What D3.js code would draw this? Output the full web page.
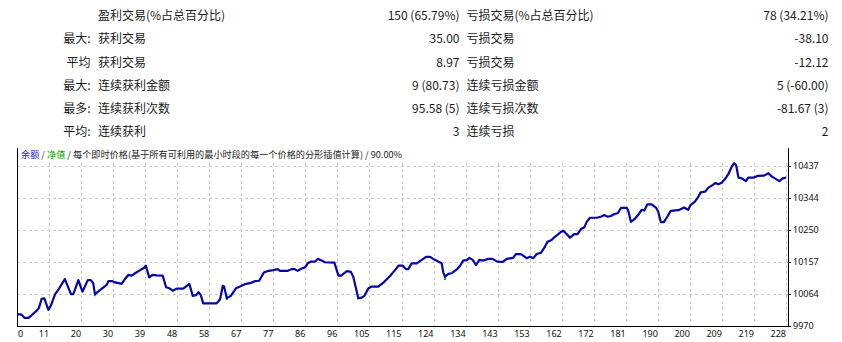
<!DOCTYPE html>
<html><head><meta charset="utf-8">
<script src="https://cdn.jsdelivr.net/npm/d3@7"></script>
<style>html,body{margin:0;padding:0;background:#fff;}svg{display:block;}</style>
</head><body>
<svg id="c" width="842" height="342"></svg>
<script>
// ---- statistics table ----
const rowPrefix = ["", "最大:", "平均", "最大:", "最多:", "平均:"];
const winNames = ["盈利交易(%占总百分比)", "获利交易", "获利交易", "连续获利金额", "连续获利次数", "连续获利"];
const winValues = ["150 (65.79%)", "35.00", "8.97", "9 (80.73)", "95.58 (5)", "3"];
const lossNames = ["亏损交易(%占总百分比)", "亏损交易", "亏损交易", "连续亏损金额", "连续亏损次数", "连续亏损"];
const lossValues = ["78 (34.21%)", "-38.10", "-12.12", "5 (-60.00)", "-81.67 (3)", "2"];

// ---- chart header ----
const headerParts = ["余额", " / ", "净值", " / 每个即时价格(基于所有可利用的最小时段的每一个价格的分形插值计算) / 90.00%"];
const headerColors = ["#1c1cd0", "#333", "#10a010", "#222"];

// ---- axes ----
const xTickLabels = ["0","11","20","30","39","48","58","67","77","86","96","105","115","124","134","143","153","162","172","181","190","200","209","219","228"];
const yTickLabels = ["9970","10064","10157","10250","10344","10437"];

// ---- balance series (trade number, balance) ----
const balanceTrades = [0,1.2,2.2,3.4,4.4,5.8,6.5,7.3,8.1,9.3,10.1,11.3,12.2,14.2,16.0,16.7,18.2,19.4,21.0,21.9,22.6,23.1,24.6,26.6,27.1,28.3,28.8,31.0,32.0,33.0,34.0,35.0,36.5,37.7,38.2,39.2,40.2,41.4,43.2,44.2,45.2,46.2,47.3,49.3,51.1,52.1,53.1,53.8,54.5,55.2,59.2,60.2,61.0,61.4,62.2,63.4,64.9,66.1,67.9,69.1,70.6,71.8,73.2,74.6,76.0,77.3,78.0,80.3,81.4,82.4,83.2,84.2,85.4,86.2,87.2,88.4,89.2,90.3,91.3,94.1,95.3,96.1,97.8,99.0,99.7,101.2,102.2,103.0,104.2,105.2,107.1,108.9,110.6,111.9,113.1,114.4,115.3,116.0,117.0,118.5,120.0,121.3,122.5,123.4,124.9,125.9,126.4,126.9,127.9,128.9,130.4,131.3,132.3,133.5,134.1,135.1,136.1,137.1,138.3,139.7,141.0,142.4,144.0,145.2,147.1,147.9,149.4,151.1,152.1,153.1,154.1,155.4,156.5,157.3,158.5,159.3,160.5,161.3,162.0,163.0,164.0,165.2,166.2,167.2,168.2,168.9,169.9,171.9,173.1,174.1,175.1,176.1,177.1,178.1,179.1,180.8,181.3,182.0,183.0,184.4,185.2,186.0,186.9,188.2,189.5,190.1,190.9,191.8,192.8,193.8,196.1,197.8,199.0,199.7,201.0,202.0,202.7,204.0,205.0,206.3,207.0,208.0,208.9,209.9,210.9,211.9,212.6,213.2,213.9,214.9,216.1,216.8,218.3,219.5,221.5,222.8,223.8,224.7,226.0,227.0,228.0];
const balanceValues = [10004,10004,9994,9994,10002,10014,10023,10049,10051,10017,10031,10063,10075,10107,10063,10063,10104,10070,10104,10104,10095,10063,10075,10090,10101,10101,10098,10093,10107,10119,10117,10124,10133,10140,10146,10112,10119,10118,10117,10083,10080,10073,10079,10079,10093,10058,10060,10069,10060,10036,10036,10048,10087,10085,10051,10058,10080,10085,10093,10095,10101,10102,10126,10131,10133,10136,10131,10131,10136,10136,10131,10137,10141,10153,10158,10158,10166,10161,10156,10155,10117,10117,10130,10128,10114,10051,10053,10058,10080,10085,10085,10099,10116,10131,10146,10146,10136,10136,10153,10153,10163,10172,10172,10166,10158,10153,10126,10114,10122,10124,10135,10145,10161,10163,10169,10163,10148,10163,10161,10166,10166,10158,10157,10166,10169,10180,10180,10168,10172,10168,10180,10184,10201,10216,10221,10229,10238,10245,10248,10238,10228,10238,10238,10253,10258,10274,10286,10286,10289,10294,10289,10291,10297,10299,10315,10315,10304,10274,10281,10297,10309,10307,10325,10325,10315,10304,10273,10273,10289,10306,10308,10316,10309,10323,10333,10347,10360,10362,10374,10382,10387,10384,10388,10399,10413,10435,10445,10440,10403,10401,10393,10403,10403,10408,10409,10416,10406,10401,10393,10401,10403];

// ---- equity dips visible below balance ----
const equityTrades = [23.1, 62.2, 101.2, 126.9];
const equityLows = [10057, 10046, 10048, 10104];

const svg = d3.select("#c");
const cjk = "'Noto Sans CJK SC','Noto Sans',sans-serif";

// table
const rowY = d3.scaleLinear().domain([0, 5]).range([16, 131.7]);
const tbl = svg.append("g").attr("font-family", cjk).attr("font-size", 12).attr("fill", "#1a1a1a");
rowPrefix.forEach((t, i) => {
  const yy = rowY(i) + 4.3;
  tbl.append("text").attr("x", 90.5).attr("y", yy).attr("text-anchor", "end").text(t);
  tbl.append("text").attr("x", 98).attr("y", yy).text(winNames[i]);
  tbl.append("text").attr("x", 459.5).attr("y", yy).attr("text-anchor", "end").text(winValues[i]);
  tbl.append("text").attr("x", 466.5).attr("y", yy).text(lossNames[i]);
  tbl.append("text").attr("x", 828.5).attr("y", yy).attr("text-anchor", "end").text(lossValues[i]);
});

// chart
const L = 17, R = 788, T = 148, B = 326;
const x = d3.scaleLinear().domain([0, 228]).range([L, 786]);
const y = d3.scaleLinear().domain([9970, 10437]).range([B, 166]);
const xg = d3.scalePoint().domain(xTickLabels).range([L, 786]);

const grid = svg.append("g").attr("stroke", "#c8c8c8").attr("stroke-width", 1).attr("stroke-dasharray", "3,3").attr("shape-rendering", "crispEdges");
xTickLabels.forEach(t => {
  const gx = Math.round(xg(t)) + 0.5;
  if (gx > L + 1) grid.append("line").attr("x1", gx).attr("x2", gx).attr("y1", 163).attr("y2", B);
});
yTickLabels.forEach(t => {
  const gy = Math.round(y(+t)) + 0.5;
  if (gy < B - 1) grid.append("line").attr("x1", L).attr("x2", R).attr("y1", gy).attr("y2", gy);
});

// header
const hdr = svg.append("text").attr("x", 21).attr("y", 158).attr("font-family", cjk).attr("font-size", 9.2)
  .attr("textLength", 381).attr("lengthAdjust", "spacingAndGlyphs");
headerParts.forEach((p, i) => hdr.append("tspan").attr("fill", headerColors[i]).text(p));

// equity dips
const eq = svg.append("g").attr("stroke", "#10b010").attr("stroke-width", 2);
equityTrades.forEach((t, i) => {
  const j = balanceTrades.indexOf(t);
  eq.append("line").attr("x1", x(t)).attr("x2", x(t)).attr("y1", y(balanceValues[j])).attr("y2", y(equityLows[i]));
});

// balance line
const pts = balanceTrades.map((t, i) => [t, balanceValues[i]]);
svg.append("path").datum(pts)
  .attr("d", d3.line().x(d => x(d[0])).y(d => y(d[1])).curve(d3.curveLinear))
  .attr("fill", "none").attr("stroke", "#0606a6").attr("stroke-width", 2.2).attr("stroke-linejoin", "round");

// frame
const fr = svg.append("g").attr("stroke", "#000").attr("stroke-width", 1).attr("shape-rendering", "crispEdges");
fr.append("line").attr("x1", L + 0.5).attr("x2", L + 0.5).attr("y1", T).attr("y2", B + 1);
fr.append("line").attr("x1", R + 0.5).attr("x2", R + 0.5).attr("y1", T).attr("y2", B + 1);
fr.append("line").attr("x1", L).attr("x2", R + 1).attr("y1", B + 0.5).attr("y2", B + 0.5);

// axis labels
const ax = svg.append("g").attr("font-family", "'Noto Sans',sans-serif").attr("font-size", 9).attr("fill", "#111");
xTickLabels.forEach((t, i) => {
  const gx = xg(t);
  ax.append("text").attr("x", i === 0 ? gx + 1 : gx).attr("y", 337).attr("text-anchor", i === 0 ? "start" : "end").text(t);
});
yTickLabels.forEach(t => {
  const gy = y(+t);
  fr.append("line").attr("x1", R).attr("x2", R + 3).attr("y1", Math.round(gy) + 0.5).attr("y2", Math.round(gy) + 0.5);
  ax.append("text").attr("x", 793).attr("y", gy + 3.2).text(t);
});
</script>
</body></html>
